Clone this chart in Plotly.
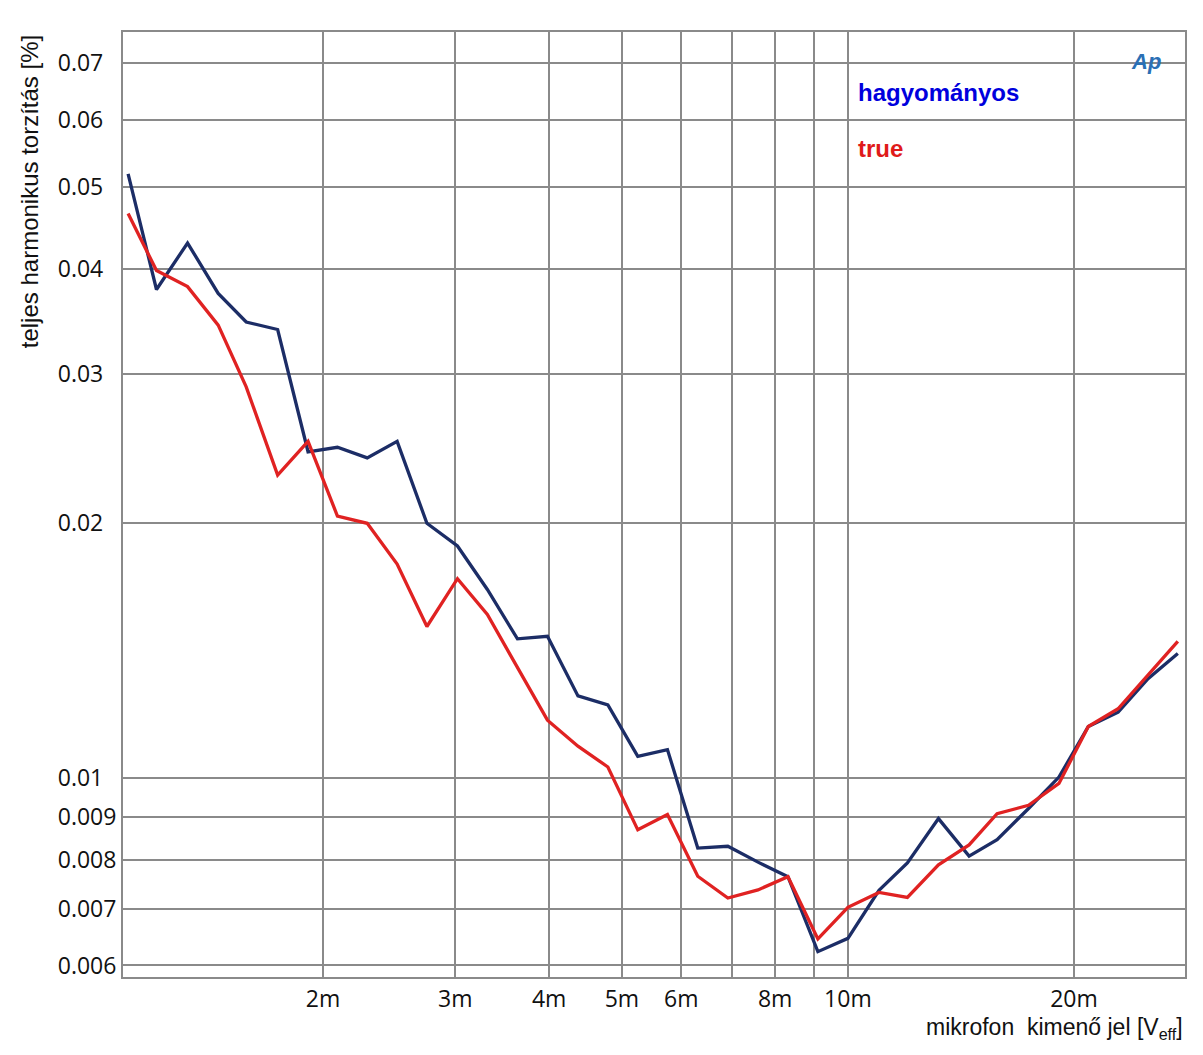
import plotly.graph_objects as go

# microphone output level [mV]
x_mv = [1.10, 1.20, 1.32, 1.45, 1.58, 1.74, 1.91, 2.09, 2.29, 2.51, 2.75, 3.02,
        3.31, 3.63, 3.98, 4.37, 4.79, 5.25, 5.75, 6.31, 6.92, 7.59, 8.32, 9.12,
        10.0, 11.0, 12.0, 13.2, 14.5, 15.8, 17.4, 19.1, 20.9, 22.9, 25.1, 27.5]

# THD [%]
thd_hagyomanyos = [0.0518, 0.0378, 0.0429, 0.0374, 0.0346, 0.0339, 0.0243, 0.0246,
                   0.0239, 0.0250, 0.0200, 0.0188, 0.0167, 0.0146, 0.0147, 0.0125,
                   0.0122, 0.0106, 0.0108, 0.00826, 0.00830, 0.00795, 0.00764, 0.00623,
                   0.00646, 0.00736, 0.00793, 0.00895, 0.00808, 0.00845, 0.00920, 0.01002,
                   0.01150, 0.01196, 0.01310, 0.01403]

thd_true = [0.0465, 0.0398, 0.0381, 0.0343, 0.0290, 0.0228, 0.0250, 0.0204,
            0.0200, 0.0179, 0.0151, 0.0172, 0.0156, 0.0135, 0.0117, 0.0109,
            0.0103, 0.00868, 0.00905, 0.00765, 0.00721, 0.00737, 0.00764, 0.00645,
            0.00703, 0.00732, 0.00722, 0.00789, 0.00833, 0.00907, 0.00928, 0.00985,
            0.01150, 0.01207, 0.01322, 0.01450]

x_tickvals = [2, 3, 4, 5, 6, 7, 8, 9, 10, 20]
x_ticktext = ["2m", "3m", "4m", "5m", "6m", "", "8m", "", "10m", "20m"]
y_tickvals = [0.006, 0.007, 0.008, 0.009, 0.01, 0.02, 0.03, 0.04, 0.05, 0.06, 0.07]
y_ticktext = ["0.006", "0.007", "0.008", "0.009", "0.01", "0.02", "0.03", "0.04",
              "0.05", "0.06", "0.07"]

BLUE = "#1c2d66"
RED = "#e02222"
GRID = "#8a8a8a"

# left-align y tick labels (pad shorter labels with figure spaces)
maxlen = max(len(t) for t in y_ticktext)
y_ticktext_padded = [t + "\u2007" * (maxlen - len(t)) for t in y_ticktext]

fig = go.Figure()
fig.add_trace(go.Scatter(x=x_mv, y=thd_hagyomanyos, mode="lines", name="hagyományos",
                         line=dict(color=BLUE, width=3.3)))
fig.add_trace(go.Scatter(x=x_mv, y=thd_true, mode="lines", name="true",
                         line=dict(color=RED, width=3.3)))

fig.update_layout(
    width=1203, height=1055,
    margin=dict(l=123, r=18, t=32, b=78),
    paper_bgcolor="white", plot_bgcolor="white",
    showlegend=False,
    font=dict(family="Open Sans, Noto Sans, sans-serif", size=23, color="#111"),
)
fig.update_xaxes(type="log", range=[0.0346, 1.4489],
                 tickmode="array", tickvals=x_tickvals, ticktext=x_ticktext,
                 showgrid=True, gridcolor=GRID, gridwidth=1.5,
                 showline=True, linecolor=GRID, linewidth=2, mirror=True,
                 ticks="", ticklen=0, zeroline=False)
fig.update_yaxes(type="log", range=[-2.2355, -1.118],
                 tickmode="array", tickvals=y_tickvals, ticktext=y_ticktext_padded,
                 showgrid=True, gridcolor=GRID, gridwidth=1.5,
                 showline=True, linecolor=GRID, linewidth=2, mirror=True,
                 ticks="", ticklen=0, zeroline=False)

fig.add_annotation(xref="paper", yref="paper", x=0.6905, y=0.9365, xanchor="left", yanchor="middle",
                   text="<b>hagyományos</b>", showarrow=False,
                   font=dict(family="Liberation Sans, Arial", size=24, color="#0000dd"))
fig.add_annotation(xref="paper", yref="paper", x=0.6905, y=0.877, xanchor="left", yanchor="middle",
                   text="<b>true</b>", showarrow=False,
                   font=dict(family="Liberation Sans, Arial", size=24, color="#e01a1a"))
fig.add_annotation(xref="paper", yref="paper", x=0.963, y=0.969, xanchor="center", yanchor="middle",
                   text="<b><i>Ap</i></b>", showarrow=False,
                   font=dict(family="Liberation Sans, Arial", size=22, color="#2a6fb5"))
fig.add_annotation(xref="paper", yref="paper", x=1.0, y=-0.054, xanchor="right", yanchor="middle",
                   text="mikrofon  kimenő jel [V<sub>eff</sub>]", showarrow=False,
                   font=dict(family="Liberation Sans, Arial", size=23, color="#111"))
fig.add_annotation(xref="paper", yref="paper", x=-0.088, y=0.831, xanchor="center", yanchor="middle",
                   text="teljes harmonikus torzítás [%]", showarrow=False, textangle=-90,
                   font=dict(family="Liberation Sans, Arial", size=24, color="#111"))

fig.write_html("out.html")
